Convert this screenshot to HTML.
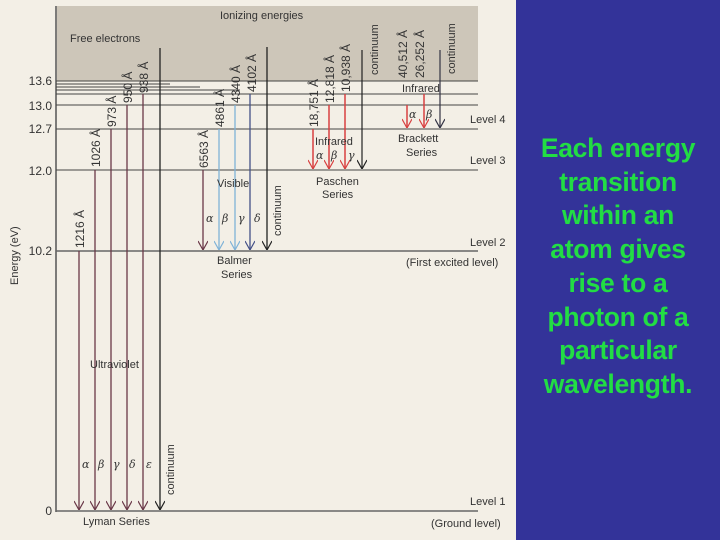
<!DOCTYPE html>
<html><head><meta charset="utf-8"><style>
html,body{margin:0;padding:0;width:720px;height:540px;overflow:hidden;background:#f3efe6}
svg{position:absolute;left:0;top:0}
.t{font-family:"Liberation Sans",sans-serif;font-size:11px;fill:#333}
.w{font-family:"Liberation Sans",sans-serif;font-size:12px;fill:#333}
.g{font-family:"DejaVu Serif","Liberation Serif",serif;font-style:italic;font-size:11px;fill:#333}
.big{position:absolute;left:516px;top:0;width:204px;height:540px;background:#333399}
.txt{position:absolute;left:516px;width:204px;top:132px;text-align:center;color:#22dd44;font:bold 26.5px/33.7px "Liberation Sans",sans-serif;letter-spacing:-0.3px}
</style></head><body>
<svg width="516" height="540" viewBox="0 0 516 540">
<defs>
<marker id="a" viewBox="0 0 10 10" refX="10" refY="5" markerWidth="10" markerHeight="10" markerUnits="userSpaceOnUse" orient="auto"><path d="M1,0 L10,5 L1,10" fill="none" stroke="context-stroke" stroke-width="1.2"/></marker>
</defs>
<rect x="57" y="6" width="421" height="75" fill="#cdc6b9"/>
<line x1="56" y1="6" x2="56" y2="512" stroke="#555" stroke-width="1.5"/>
<g stroke="#444" stroke-width="1">
<line x1="56" y1="81" x2="478" y2="81"/>
<line x1="56" y1="84" x2="170" y2="84"/>
<line x1="56" y1="87" x2="200" y2="87"/>
<line x1="56" y1="90" x2="240" y2="90"/>
<line x1="56" y1="94" x2="478" y2="94"/>
<line x1="56" y1="105" x2="478" y2="105"/>
<line x1="56" y1="129" x2="478" y2="129"/>
<line x1="56" y1="170" x2="478" y2="170"/>
<line x1="56" y1="251" x2="478" y2="251" stroke="#666" stroke-width="1.5"/>
<line x1="56" y1="511" x2="478" y2="511" stroke="#666" stroke-width="1.5"/>
</g>
<g stroke="#6a3848" stroke-width="1.3" marker-end="url(#a)">
<line x1="79" y1="251" x2="79" y2="510"/>
<line x1="95" y1="170" x2="95" y2="510"/>
<line x1="111" y1="129" x2="111" y2="510"/>
<line x1="127" y1="105" x2="127" y2="510"/>
<line x1="143" y1="94" x2="143" y2="510"/>
<line x1="160" y1="48" x2="160" y2="510" stroke="#222"/>
</g>
<g stroke-width="1.3" marker-end="url(#a)">
<line x1="203" y1="170" x2="203" y2="250" stroke="#6a3848"/>
<line x1="219" y1="129" x2="219" y2="250" stroke="#7fb3d8"/>
<line x1="235" y1="105" x2="235" y2="250" stroke="#7fb3d8"/>
<line x1="250" y1="94" x2="250" y2="250" stroke="#445088"/>
<line x1="267" y1="47" x2="267" y2="250" stroke="#222"/>
</g>
<g stroke-width="1.5" marker-end="url(#a)">
<line x1="313" y1="129" x2="313" y2="169" stroke="#d84040"/>
<line x1="329" y1="105" x2="329" y2="169" stroke="#d84040"/>
<line x1="345" y1="94" x2="345" y2="169" stroke="#d84040"/>
<line x1="362" y1="50" x2="362" y2="169" stroke="#222" stroke-width="1.2"/>
<line x1="407" y1="105" x2="407" y2="128" stroke="#d84040"/>
<line x1="424" y1="94" x2="424" y2="128" stroke="#d84040"/>
<line x1="440" y1="50" x2="440" y2="128" stroke="#334" stroke-width="1.2"/>
</g>
<g class="w" text-anchor="end">
<text x="52" y="85">13.6</text><text x="52" y="110">13.0</text><text x="52" y="133">12.7</text>
<text x="52" y="175">12.0</text><text x="52" y="255">10.2</text><text x="52" y="515">0</text>
</g>
<text class="t" transform="translate(18,285) rotate(-90)">Energy (eV)</text>
<text class="t" x="70" y="42">Free electrons</text>
<text class="t" x="220" y="19">Ionizing energies</text>
<g class="w">
<text transform="translate(84,248) rotate(-90)">1216 Å</text>
<text transform="translate(100,167) rotate(-90)">1026 Å</text>
<text transform="translate(116,127) rotate(-90)">973 Å</text>
<text transform="translate(132,103) rotate(-90)">950 Å</text>
<text transform="translate(148,93) rotate(-90)">938 Å</text>
<text transform="translate(208,168) rotate(-90)">6563 Å</text>
<text transform="translate(224,127) rotate(-90)">4861 Å</text>
<text transform="translate(240,103) rotate(-90)">4340 Å</text>
<text transform="translate(256,92) rotate(-90)">4102 Å</text>
<text transform="translate(318,127) rotate(-90)">18,751 Å</text>
<text transform="translate(334,103) rotate(-90)">12,818 Å</text>
<text transform="translate(350,92) rotate(-90)">10,938 Å</text>
<text transform="translate(407,78) rotate(-90)">40,512 Å</text>
<text transform="translate(424,78) rotate(-90)">26,252 Å</text>
</g>
<g class="t">
<text transform="translate(174,495) rotate(-90)">continuum</text>
<text transform="translate(281,236) rotate(-90)">continuum</text>
<text transform="translate(378,75) rotate(-90)">continuum</text>
<text transform="translate(455,74) rotate(-90)">continuum</text>
<text x="217" y="187">Visible</text>
<text x="217" y="264">Balmer</text>
<text x="221" y="278">Series</text>
<text x="315" y="145">Infrared</text>
<text x="316" y="185">Paschen</text>
<text x="322" y="198">Series</text>
<text x="402" y="92">Infrared</text>
<text x="398" y="142">Brackett</text>
<text x="406" y="156">Series</text>
<text x="90" y="368">Ultraviolet</text>
<text x="83" y="525">Lyman Series</text>
<text x="470" y="123">Level 4</text>
<text x="470" y="164">Level 3</text>
<text x="470" y="246">Level 2</text>
<text x="406" y="266">(First excited level)</text>
<text x="470" y="505">Level 1</text>
<text x="431" y="527">(Ground level)</text>
</g>
<g class="g">
<text x="82" y="468">α</text><text x="98" y="468">β</text><text x="113" y="468">γ</text><text x="129" y="468">δ</text><text x="146" y="468">ε</text>
<text x="206" y="222">α</text><text x="222" y="222">β</text><text x="238" y="222">γ</text><text x="254" y="222">δ</text>
<text x="316" y="159">α</text><text x="331" y="159">β</text><text x="348" y="159">γ</text>
<text x="409" y="118">α</text><text x="426" y="118">β</text>
</g>
</svg>
<div class="big"></div>
<div class="txt">Each energy<br>transition<br>within an<br>atom gives<br>rise to a<br>photon of a<br>particular<br>wavelength.</div>
</body></html>
